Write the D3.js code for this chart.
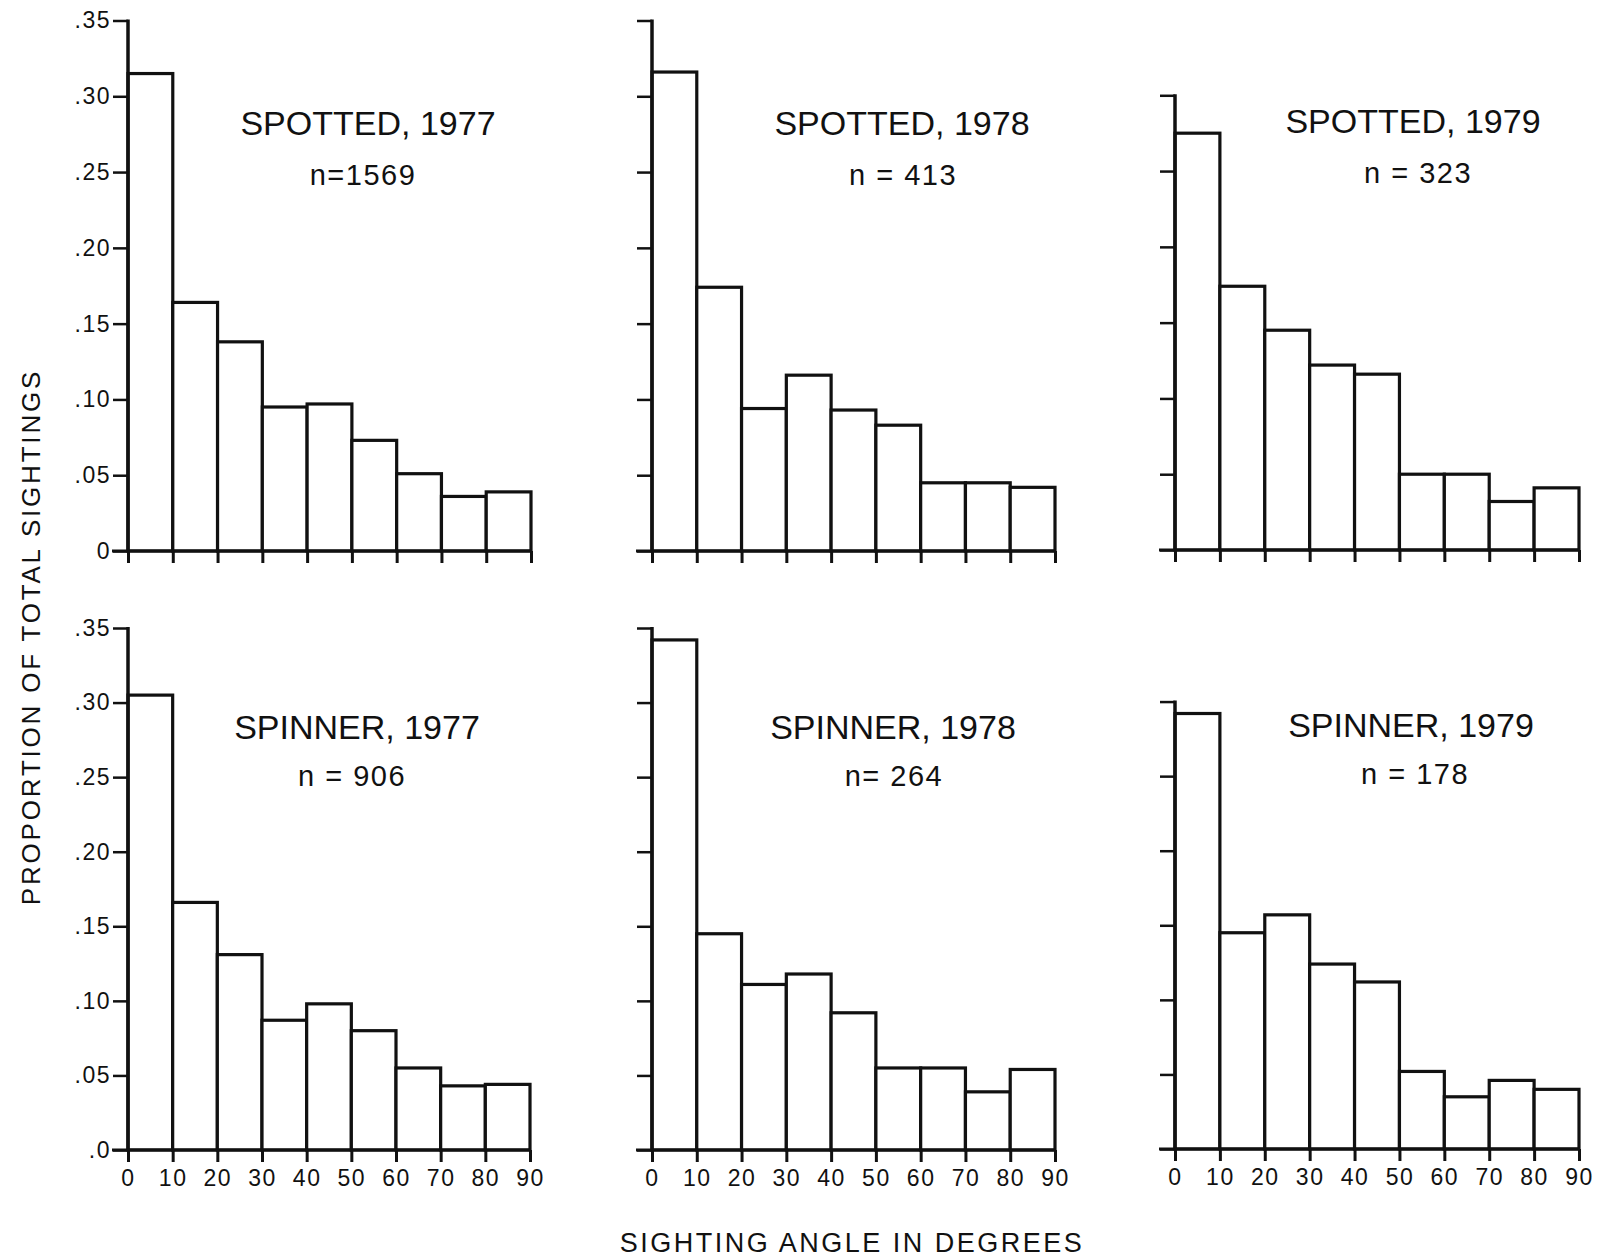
<!DOCTYPE html>
<html>
<head>
<meta charset="utf-8">
<script src="https://cdn.jsdelivr.net/npm/d3@7"></script>
<style>
  html, body { margin: 0; padding: 0; background: #fff; }
  svg { display: block; font-family: "Liberation Sans", Arial, Helvetica, sans-serif; }
</style>
</head>
<body>
<div id="chart"></div>
<script>
// bin edges, degrees
const binEdges = [0, 10, 20, 30, 40, 50, 60, 70, 80, 90]

// proportion of sightings per 10 degree bin
const spotted1977 = [0.315, 0.164, 0.138, 0.095, 0.097, 0.073, 0.051, 0.036, 0.039]
const spotted1978 = [0.316, 0.174, 0.094, 0.116, 0.093, 0.083, 0.045, 0.045, 0.042]
const spotted1979 = [0.275, 0.174, 0.145, 0.122, 0.116, 0.050, 0.050, 0.032, 0.041]
const spinner1977 = [0.305, 0.166, 0.131, 0.087, 0.098, 0.080, 0.055, 0.043, 0.044]
const spinner1978 = [0.342, 0.145, 0.111, 0.118, 0.092, 0.055, 0.055, 0.039, 0.054]
const spinner1979 = [0.292, 0.145, 0.157, 0.124, 0.112, 0.052, 0.035, 0.046, 0.040]

const panelTitles = ['SPOTTED, 1977', 'SPOTTED, 1978', 'SPOTTED, 1979',
                     'SPINNER, 1977', 'SPINNER, 1978', 'SPINNER, 1979']
const panelCounts = ['n=1569', 'n = 413', 'n = 323', 'n = 906', 'n= 264', 'n = 178']
const panelSeries = [spotted1977, spotted1978, spotted1979, spinner1977, spinner1978, spinner1979]

const xTicks = [0, 10, 20, 30, 40, 50, 60, 70, 80, 90]
const yTicksFull = [0, 0.05, 0.10, 0.15, 0.20, 0.25, 0.30, 0.35]
const yTicksShort = [0, 0.05, 0.10, 0.15, 0.20, 0.25, 0.30]
const yLabelsTop = ['0', '.05', '.10', '.15', '.20', '.25', '.30', '.35']
const yLabelsBottom = ['.0', '.05', '.10', '.15', '.20', '.25', '.30', '.35']

const width = 1597, height = 1257
const ink = '#111'

// where each panel sits on the page
const layout = [
  { ox: 128, x90: 531, y0: 551, y35: 20.5, yTicks: yTicksFull, labels: yLabelsTop, xLabels: false, tx: 368, ty: 135, nx: 363, ny: 185 },
  { ox: 652, x90: 1055, y0: 551, y35: 20.5, yTicks: yTicksFull, labels: null, xLabels: false, tx: 902, ty: 135, nx: 903, ny: 185 },
  { ox: 1175, x90: 1579, y0: 550, y35: 19.5, yTicks: yTicksShort, labels: null, xLabels: false, tx: 1413, ty: 133, nx: 1418, ny: 183 },
  { ox: 128, x90: 530, y0: 1150, y35: 628, yTicks: yTicksFull, labels: yLabelsBottom, xLabels: true, tx: 357, ty: 739, nx: 352, ny: 786 },
  { ox: 652, x90: 1055, y0: 1150, y35: 628, yTicks: yTicksFull, labels: null, xLabels: true, tx: 893, ty: 739, nx: 894, ny: 786 },
  { ox: 1175, x90: 1579, y0: 1149, y35: 627, yTicks: yTicksShort, labels: null, xLabels: true, tx: 1411, ty: 737, nx: 1415, ny: 784 }
]

const svg = d3.select('#chart')
  .append('svg')
    .attr('width', width)
    .attr('height', height)

svg.append('rect')
  .attr('width', width)
  .attr('height', height)
  .style('fill', '#fff')

layout.forEach((p, i) => {
  const values = panelSeries[i]
  const x = d3.scaleLinear().domain([0, 90]).range([p.ox, p.x90])
  const y = d3.scaleLinear().domain([0, 0.35]).range([p.y0, p.y35])
  const g = svg.append('g')

  // bars
  g.selectAll('rect.bar')
    .data(values)
    .join('rect')
      .attr('class', 'bar')
      .attr('x', (d, j) => x(binEdges[j]))
      .attr('y', d => y(d))
      .attr('width', (d, j) => x(binEdges[j] + 10) - x(binEdges[j]))
      .attr('height', d => y(0) - y(d))
      .style('fill', '#fff')
      .style('stroke', ink)
      .style('stroke-width', 3.2)

  // y axis
  const yAxis = d3.axisLeft(y)
    .tickValues(p.yTicks)
    .tickSize(15)
    .tickPadding(2)
    .tickFormat((d, j) => p.labels ? p.labels[j] : '')
  const ya = g.append('g')
    .attr('transform', `translate(${x(0)},0)`)
    .call(yAxis)
  ya.select('.domain').remove()
  ya.selectAll('line').style('stroke', ink).style('stroke-width', 2.5)
  ya.selectAll('text')
    .style('font-size', '23px')
    .style('letter-spacing', '1.5px')
    .style('fill', ink)

  const topTick = d3.max(p.yTicks)
  g.append('path')
    .attr('d', d3.line()([[x(0), y(topTick) - 1], [x(0), y(0)]]))
    .style('stroke', ink)
    .style('stroke-width', 3.5)

  // x axis
  const xAxis = d3.axisBottom(x)
    .tickValues(xTicks)
    .tickSize(12)
    .tickSizeOuter(0)
    .tickPadding(8)
    .tickFormat(d => p.xLabels ? d : '')
  const xa = g.append('g')
    .attr('transform', `translate(0,${y(0)})`)
    .call(xAxis)
  xa.select('.domain').remove()
  xa.selectAll('line').style('stroke', ink).style('stroke-width', 3)
  xa.selectAll('text')
    .style('font-size', '23px')
    .style('letter-spacing', '1.5px')
    .style('fill', ink)

  g.append('path')
    .attr('d', d3.line()([[x(0) - 16, y(0)], [x(90) + 1, y(0)]]))
    .style('stroke', ink)
    .style('stroke-width', 3)

  // panel titles
  g.append('text')
    .attr('x', p.tx)
    .attr('y', p.ty)
    .attr('text-anchor', 'middle')
    .style('font-size', '34px')
    .style('fill', ink)
    .text(panelTitles[i])

  g.append('text')
    .attr('x', p.nx)
    .attr('y', p.ny)
    .attr('text-anchor', 'middle')
    .style('font-size', '29px')
    .style('letter-spacing', '1.5px')
    .style('fill', ink)
    .text(panelCounts[i])
})

// shared axis titles
svg.append('text')
  .attr('x', 852)
  .attr('y', 1252)
  .attr('text-anchor', 'middle')
  .style('font-size', '27px')
  .style('letter-spacing', '2.5px')
  .style('fill', ink)
  .text('SIGHTING ANGLE IN DEGREES')

svg.append('text')
  .attr('transform', 'translate(40,637) rotate(-90)')
  .attr('text-anchor', 'middle')
  .style('font-size', '26px')
  .style('letter-spacing', '2.8px')
  .style('fill', ink)
  .text('PROPORTION OF TOTAL SIGHTINGS')
</script>
</body>
</html>
